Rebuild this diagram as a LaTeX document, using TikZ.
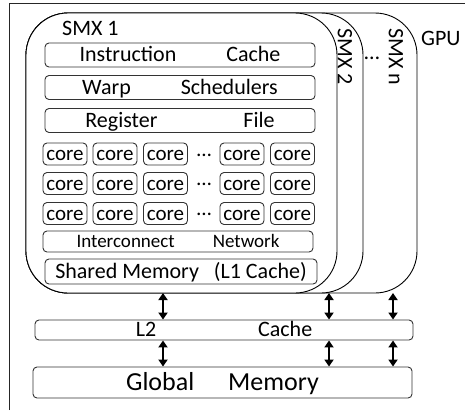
\documentclass[tikz,border=0pt]{standalone}
\usepackage{fontspec}
\setmainfont{Carlito}
\usetikzlibrary{arrows.meta}
\begin{document}
\begin{tikzpicture}[x=1pt,y=-1pt,
  box/.style={draw=black!80, line width=0.9pt, rounded corners=4pt, inner sep=0pt,
    font=\fontsize{22}{24}\selectfont, text height=15pt, text depth=2pt},
  corebox/.style={box, minimum width=44pt, minimum height=22pt,
    font=\fontsize{21}{22}\selectfont},
  dotsnode/.style={inner sep=0pt, font=\fontsize{21}{22}\selectfont},
  lbl/.style={inner sep=0pt, font=\fontsize{22}{24}\selectfont},
  smx/.style={draw=black, line width=0.9pt, fill=white, rounded corners=42pt},
  link/.style={line width=2.2pt, {Triangle[length=7pt,width=9pt]}-{Triangle[length=7pt,width=9pt]}}
]
\useasboundingbox (0,0) rectangle (465,410);
% GPU frame
\draw[line width=1pt, black!85] (9,410) -- (9,3) -- (465,3);
\node[lbl, anchor=base west] (gpu) at (421,45) {GPU};
% SMX boxes
\draw[smx] (26,13) rectangle (417,293);
\draw[smx] (26,13) rectangle (363,293);
\draw[smx] (26,13) rectangle (337,293);
\node[lbl, anchor=west, rotate=-90] (smx2) at (345,28) {SMX 2};
\node[lbl, anchor=west, rotate=-90] (smxn) at (396,28) {SMX n};
\node[lbl] (smxdots) at (372,58) {…};
\node[lbl, anchor=base west] (smx1) at (62,35) {SMX 1};
% SMX 1 content
\node[box, minimum width=270pt, minimum height=24pt] (ic) at (180,55) {Instruction\hspace{50pt}Cache};
\node[box, minimum width=270pt, minimum height=24pt] (ws) at (180,87.5) {Warp\hspace{50pt}Schedulers};
\node[box, minimum width=270pt, minimum height=24pt] (rf) at (180,120.5) {Register\hspace{86pt}File};
\foreach \r/\y in {1/154,2/183.5,3/213.5}{
  \node[corebox] (c\r a) at (65,\y) {core};
  \node[corebox] (c\r b) at (115,\y) {core};
  \node[corebox] (c\r c) at (165.5,\y) {core};
  \node[dotsnode] (c\r d) at (204,\y+1) {…};
  \node[corebox] (c\r e) at (242,\y) {core};
  \node[corebox] (c\r f) at (292.5,\y) {core};
}
\node[box, minimum width=270pt, minimum height=21pt, font=\fontsize{19}{21}\selectfont, text height=13pt, text depth=1pt] (in) at (178,241.5) {Interconnect\hspace{38pt}Network};
\node[box, minimum width=272pt, minimum height=25pt] (sm) at (181,271.5) {Shared Memory\hspace{10pt} (L1 Cache)};
% memory hierarchy
\node[box, minimum width=378pt, minimum height=20pt] (l2) at (224,330) {L2\hspace{102pt}Cache};
\node[box, minimum width=379pt, minimum height=31pt, font=\fontsize{26}{28}\selectfont, text height=18pt, text depth=3pt] (gm) at (222.5,382.5) {Global\hspace{34pt}Memory};
\coordinate (b1) at (163,293);
\coordinate (b2) at (329,293);
\coordinate (b3) at (393,293);
\foreach \b in {b1,b2,b3}{
  \draw[link] (\b) -- (\b |- l2.north);
  \draw[link] (l2.south -| \b) -- (gm.north -| \b);
}
\end{tikzpicture}
\end{document}
